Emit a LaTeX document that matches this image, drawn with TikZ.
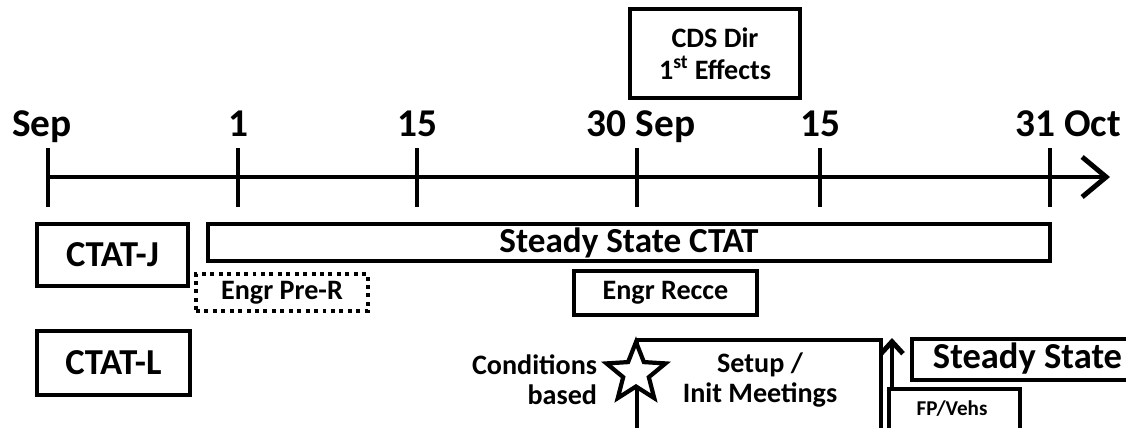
\documentclass[tikz,border=0pt]{standalone}
\usepackage{fontspec}
\setmainfont{Carlito}
\usetikzlibrary{positioning, shapes.geometric, arrows.meta}

\begin{document}
\begin{tikzpicture}[
    x=0.25mm, y=-0.25mm,
    font=\bfseries,
    box/.style={draw, line width=3.5pt, inner sep=0pt},
    dotbox/.style={draw, line width=2.8pt, dash pattern=on 2.8pt off 3.2pt, inner sep=0pt},
    datelabel/.style={anchor=base, font=\bfseries\fontsize{28}{32}\selectfont},
    bigtext/.style={font=\bfseries\fontsize{26}{30}\selectfont},
    midtext/.style={font=\bfseries\fontsize{20}{21.5}\selectfont, align=center},
    smalltext/.style={font=\bfseries\fontsize{15}{18}\selectfont}
  ]
  \useasboundingbox (0,0) rectangle (1126,428);
  \clip (0,0) rectangle (1126,428);

  % Time axis with ticks and dates
  \coordinate (axstart) at (48,177);
  \coordinate (axend) at (1110,177);
  \draw[line width=3.5pt, -{Straight Barb[length=6mm, width=10mm]}] (axstart) -- (axend);
  \foreach \x/\lx/\lab [count=\i] in {48/42/Sep, 238/238/1, 417/417/15, 637/641/30 Sep, 820/820/15, 1050/1068/31 Oct} {
    \draw[line width=3.5pt] (\x,148) coordinate (tk\i) -- (\x,207);
    \node[datelabel] (date\i) at (\lx,137) {\lab};
  }

  % Directive box
  \node[box, minimum width=42.5mm, minimum height=22.25mm, midtext, font=\bfseries\fontsize{20}{22.5}\selectfont] (cds) at (715,53.5) {CDS Dir\\1\textsuperscript{st} Effects};

  % CTAT rows
  \node[box, minimum width=37.75mm, minimum height=15.5mm, bigtext] (ctatj) at (112.5,255) {CTAT-J};
  \node[box, minimum width=38.25mm, minimum height=16mm, bigtext] (ctatl) at (113.5,363) {CTAT-L};
  \node[box, minimum width=210.5mm, minimum height=9.25mm, bigtext, font=\bfseries\fontsize{25}{28}\selectfont] (steady) at (629,242.5) {Steady State CTAT};
  \node[dotbox, minimum width=43mm, minimum height=9.25mm, midtext] (engrpre) at (282,292.5) {Engr Pre-R};
  \node[box, minimum width=45.75mm, minimum height=11mm, midtext] (recce) at (665.5,293) {Engr Recce};

  % CTAT-L phases
  \node[box, minimum width=61mm, minimum height=30mm] (setup) at (759,400) {};
  \node[midtext] (setuptxt) at (760,380) {Setup /\\Init Meetings};
  \node[star, star points=5, star point ratio=2.3, minimum size=15.5mm, draw, line width=3pt, fill=white, inner sep=0pt] (cond) at (636,373) {};
  \node[midtext, align=right, anchor=east] (condtxt) at (602,380) {Conditions\\based};
  \node[box, minimum width=60mm, minimum height=10.25mm] (steadyl) at (1032,359.5) {};
  \node[font=\bfseries\fontsize{26}{30}\selectfont, anchor=west] (steadyltxt) at (928,359) {Steady State};
  \node[box, minimum width=32.75mm, minimum height=20mm] (fp) at (954.5,429) {};
  \node[smalltext] (fptxt) at (952,409) {FP/Vehs};
  \coordinate (fptop) at (892,389);
  \coordinate (fparrow) at (892,338);
  \draw[line width=3.5pt, -{Straight Barb[length=3mm, width=5.5mm]}] (fptop) -- (fparrow);
\end{tikzpicture}
\end{document}
